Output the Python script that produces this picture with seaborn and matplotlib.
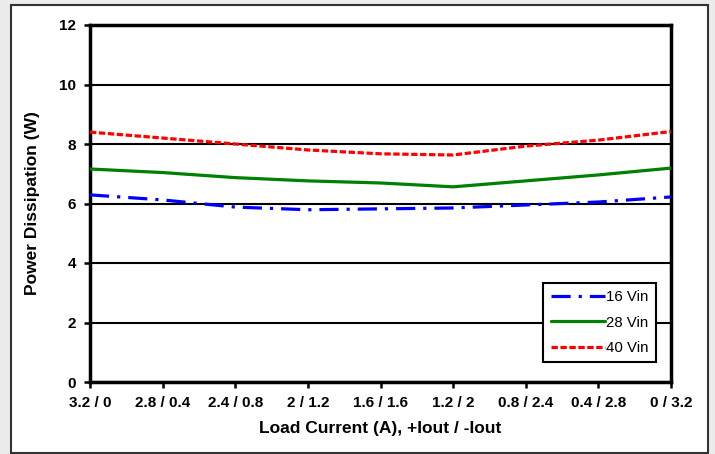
import matplotlib
matplotlib.use("Agg")
import matplotlib.pyplot as plt
import numpy as np
import pandas as pd
import seaborn as sns
from matplotlib.patches import Rectangle

# load current labels, +Iout / -Iout
load_labels = ["3.2 / 0", "2.8 / 0.4", "2.4 / 0.8", "2 / 1.2", "1.6 / 1.6",
               "1.2 / 2", "0.8 / 2.4", "0.4 / 2.8", "0 / 3.2"]
vin_16 = [6.29, 6.12, 5.88, 5.79, 5.82, 5.85, 5.95, 6.05, 6.22]
vin_28 = [7.16, 7.04, 6.87, 6.76, 6.69, 6.56, 6.76, 6.96, 7.19]
vin_40 = [8.40, 8.20, 8.00, 7.80, 7.67, 7.63, 7.93, 8.13, 8.42]
series_names = ["16 Vin", "28 Vin", "40 Vin"]

df = pd.DataFrame({"pos": np.arange(len(load_labels))})
for name, vals in zip(series_names, [vin_16, vin_28, vin_40]):
    df[name] = vals
long_df = df.melt(id_vars="pos", var_name="Series", value_name="Power")

sns.set_style("white")
plt.rcParams["font.family"] = ["Liberation Sans", "DejaVu Sans"]
plt.rcParams["text.color"] = "black"
plt.rcParams["axes.labelcolor"] = "black"
plt.rcParams["xtick.color"] = "black"
plt.rcParams["ytick.color"] = "black"

fig = plt.figure(figsize=(7.15, 4.54), dpi=100)
fig.patch.set_facecolor("#ececec")
# white page frame
fig.patches.append(Rectangle((11 / 715, 0.002), 697 / 715, 448 / 454,
                             transform=fig.transFigure, facecolor="white",
                             edgecolor="#333333", linewidth=1.5, zorder=-1))

ax = fig.add_axes([90 / 715, 1 - 382 / 454, 581 / 715, 357 / 454])
ax.set_facecolor("white")

sns.lineplot(data=long_df, x="pos", y="Power", hue="Series", style="Series",
             palette={"16 Vin": "#0000ff", "28 Vin": "#008000", "40 Vin": "#ff0000"},
             dashes={"16 Vin": (6, 2.5, 1, 2.5), "28 Vin": "", "40 Vin": (2, 0.8)},
             linewidth=2.3, ax=ax, zorder=3)

ax.set_xlim(0, len(load_labels) - 1)
ax.set_ylim(0, 12)
ax.set_yticks(np.arange(0, 13, 2))
ax.set_xticks(np.arange(len(load_labels)))
ax.set_xticklabels(load_labels)
ax.yaxis.grid(True, color="black", linewidth=1.5)
ax.set_axisbelow(True)
for s in ax.spines.values():
    s.set_color("black")
    s.set_linewidth(2.5)
ax.tick_params(axis="both", direction="out", length=4, width=1.8,
               color="black", labelcolor="black", labelsize=11, pad=6,
               bottom=True, left=True)
for lab in ax.get_xticklabels() + ax.get_yticklabels():
    lab.set_fontweight("bold")

ax.set_xlabel("Load Current (A), +Iout / -Iout", fontsize=12.5,
              fontweight="bold", labelpad=8, color="black")
ax.set_ylabel("Power Dissipation (W)", fontsize=12.5, fontweight="bold",
              labelpad=14, color="black")

leg = ax.legend(loc="lower right", bbox_to_anchor=(0.975, 0.055), fontsize=10.8,
                frameon=True, fancybox=False, handlelength=3.6,
                handletextpad=0.1, borderpad=0.5, labelspacing=0.75,
                borderaxespad=0)
leg.get_frame().set_edgecolor("black")
leg.get_frame().set_linewidth(1.5)
leg.get_frame().set_alpha(1)
leg.set_zorder(5)
for t in leg.get_texts():
    t.set_color("black")

fig.savefig("out.png", dpi=100, facecolor=fig.get_facecolor())
